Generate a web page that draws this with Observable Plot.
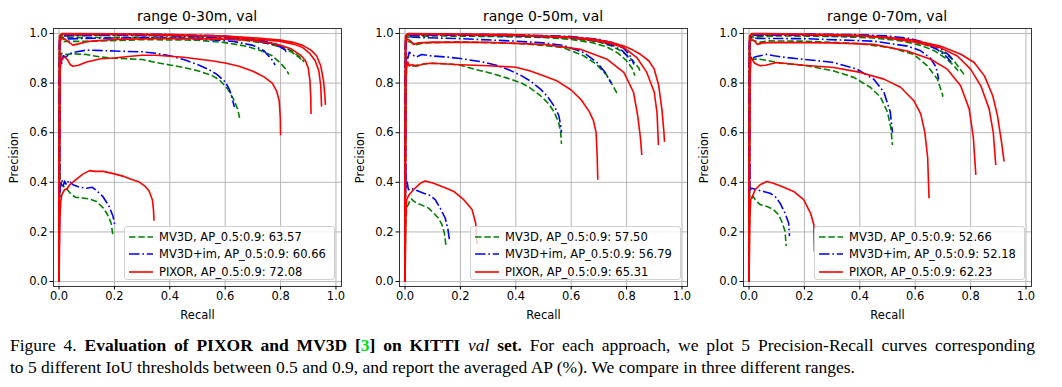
<!DOCTYPE html>
<html><head><meta charset="utf-8">
<script src="https://cdn.jsdelivr.net/npm/d3@7"></script>
<script src="https://cdn.jsdelivr.net/npm/@observablehq/plot@0.6"></script>
<style>
body{margin:0;background:#fff;}
#fig{position:relative;width:1062px;height:387px;font-family:"DejaVu Sans",sans-serif;color:#000;overflow:hidden;}
.panel{position:absolute;top:0;width:350px;height:320px;}
.title{position:absolute;top:7px;left:53px;width:288px;text-align:center;font-size:14px;line-height:18px;}
.legend{position:absolute;left:124px;top:226px;width:209px;height:52px;background:rgba(255,255,255,0.8);border:1px solid #d0d0d0;border-radius:3px;font-size:11.5px;}
.legend .row{position:absolute;left:0;height:18px;display:flex;align-items:center;white-space:nowrap;}
.legend svg{margin-left:4px;margin-right:6px;}
.capline{position:absolute;left:10px;width:1025px;font-family:"Liberation Serif","Times New Roman",serif;font-size:17.5px;line-height:22px;white-space:nowrap;}
#cap1{top:334px;text-align:justify;text-align-last:justify;}
#cap2{top:356px;text-align:left;}
</style></head>
<body><div id="fig"></div>
<script>
// ---------- data ----------
const xTicks = [0, 0.2, 0.4, 0.6, 0.8, 1.0];
const yTicks = [0, 0.2, 0.4, 0.6, 0.8, 1.0];
const iouThresholds = [0.5, 0.6, 0.7, 0.8, 0.9];
const rangeTitles = ["range 0-30m, val", "range 0-50m, val", "range 0-70m, val"];
const methods = ["MV3D", "MV3D+im", "PIXOR"];
const apMV3D = ["63.57", "57.50", "52.66"];
const apMV3Dim = ["60.66", "56.79", "52.18"];
const apPIXOR = ["72.08", "65.31", "62.23"];

// each curve: [recall, precision] pairs, one curve per IoU threshold
const mv3d_30 = [
 [[0,0],[0.002,0.95],[0.005,0.99],[0.02,0.992],[0.2,0.994],[0.4,0.993],[0.6,0.985],[0.7,0.975],[0.75,0.965],[0.8,0.95],[0.84,0.93],[0.87,0.905],[0.885,0.885]],
 [[0,0],[0.002,0.96],[0.005,0.985],[0.05,0.983],[0.3,0.985],[0.5,0.983],[0.65,0.975],[0.75,0.96],[0.8,0.945],[0.84,0.925],[0.865,0.905],[0.875,0.895]],
 [[0,0],[0.002,0.9],[0.005,0.96],[0.02,0.968],[0.1,0.968],[0.3,0.975],[0.5,0.973],[0.6,0.963],[0.68,0.948],[0.73,0.93],[0.77,0.91],[0.8,0.88],[0.82,0.855],[0.83,0.835]],
 [[0,0],[0.003,0.85],[0.008,0.92],[0.02,0.915],[0.05,0.918],[0.1,0.915],[0.15,0.905],[0.2,0.9],[0.25,0.898],[0.3,0.895],[0.35,0.883],[0.4,0.873],[0.45,0.863],[0.5,0.85],[0.55,0.832],[0.58,0.812],[0.61,0.775],[0.63,0.735],[0.645,0.695],[0.652,0.66]],
 [[0,0],[0.002,0.5],[0.004,0.4],[0.01,0.39],[0.02,0.38],[0.03,0.37],[0.045,0.35],[0.06,0.34],[0.09,0.336],[0.11,0.333],[0.135,0.323],[0.16,0.296],[0.175,0.27],[0.188,0.236],[0.194,0.19]]
];
const mv3dim_30 = [
 [[0,0],[0.002,0.98],[0.005,0.998],[0.2,0.998],[0.4,0.996],[0.6,0.99],[0.7,0.978],[0.75,0.967],[0.79,0.955],[0.81,0.94],[0.82,0.925]],
 [[0,0],[0.002,0.97],[0.005,0.99],[0.2,0.993],[0.4,0.99],[0.6,0.983],[0.7,0.972],[0.76,0.96],[0.8,0.945],[0.82,0.93],[0.83,0.935]],
 [[0,0],[0.002,0.95],[0.005,0.975],[0.02,0.978],[0.1,0.98],[0.3,0.983],[0.5,0.978],[0.63,0.968],[0.7,0.952],[0.74,0.93],[0.76,0.905],[0.772,0.89],[0.78,0.872]],
 [[0,0],[0.003,0.85],[0.006,0.9],[0.01,0.88],[0.015,0.91],[0.025,0.905],[0.04,0.92],[0.06,0.925],[0.1,0.933],[0.2,0.929],[0.3,0.926],[0.35,0.92],[0.4,0.91],[0.45,0.895],[0.5,0.875],[0.54,0.855],[0.57,0.835],[0.6,0.805],[0.615,0.775],[0.625,0.74],[0.633,0.703]],
 [[0,0],[0.002,0.3],[0.005,0.38],[0.01,0.41],[0.015,0.385],[0.02,0.405],[0.027,0.39],[0.035,0.408],[0.05,0.39],[0.075,0.38],[0.1,0.376],[0.12,0.38],[0.135,0.367],[0.158,0.343],[0.18,0.305],[0.195,0.263],[0.2,0.235],[0.203,0.22]]
];
const pixor_30 = [
 [[0,0],[0.002,0.99],[0.01,1.0],[0.2,0.999],[0.4,0.996],[0.6,0.99],[0.7,0.983],[0.8,0.973],[0.85,0.963],[0.88,0.952],[0.91,0.933],[0.93,0.91],[0.945,0.87],[0.955,0.81],[0.96,0.75],[0.962,0.712]],
 [[0,0],[0.002,0.99],[0.01,0.997],[0.2,0.996],[0.4,0.993],[0.6,0.987],[0.7,0.979],[0.8,0.968],[0.85,0.956],[0.88,0.943],[0.905,0.92],[0.925,0.89],[0.938,0.85],[0.945,0.79],[0.948,0.705]],
 [[0,0],[0.002,0.96],[0.008,0.98],[0.02,0.978],[0.035,0.965],[0.05,0.953],[0.07,0.958],[0.1,0.967],[0.2,0.976],[0.4,0.98],[0.6,0.977],[0.7,0.972],[0.76,0.962],[0.8,0.952],[0.84,0.937],[0.873,0.912],[0.89,0.89],[0.9,0.86],[0.906,0.81],[0.909,0.74],[0.91,0.675]],
 [[0,0],[0.003,0.82],[0.006,0.88],[0.012,0.9],[0.02,0.905],[0.03,0.895],[0.04,0.875],[0.05,0.868],[0.07,0.872],[0.1,0.885],[0.15,0.898],[0.2,0.901],[0.25,0.907],[0.3,0.912],[0.35,0.912],[0.4,0.908],[0.45,0.904],[0.5,0.897],[0.55,0.89],[0.6,0.881],[0.65,0.868],[0.7,0.848],[0.74,0.825],[0.77,0.8],[0.785,0.77],[0.795,0.73],[0.799,0.66],[0.8,0.59]],
 [[0,0],[0.003,0.25],[0.006,0.32],[0.01,0.35],[0.02,0.37],[0.03,0.375],[0.038,0.39],[0.06,0.41],[0.086,0.433],[0.11,0.447],[0.13,0.444],[0.16,0.444],[0.2,0.434],[0.23,0.425],[0.26,0.412],[0.29,0.401],[0.31,0.385],[0.325,0.365],[0.337,0.33],[0.341,0.29],[0.343,0.245]]
];

const mv3d_50 = [
 [[0,0],[0.002,0.96],[0.005,0.99],[0.1,0.995],[0.3,0.993],[0.5,0.988],[0.6,0.98],[0.69,0.968],[0.74,0.952],[0.78,0.93],[0.81,0.905],[0.83,0.88],[0.845,0.86],[0.85,0.84]],
 [[0,0],[0.002,0.95],[0.005,0.985],[0.1,0.99],[0.3,0.988],[0.5,0.984],[0.6,0.976],[0.68,0.962],[0.73,0.945],[0.77,0.92],[0.8,0.89],[0.82,0.86],[0.83,0.83]],
 [[0,0],[0.002,0.92],[0.005,0.97],[0.02,0.965],[0.04,0.955],[0.07,0.962],[0.2,0.966],[0.4,0.96],[0.5,0.952],[0.57,0.943],[0.645,0.91],[0.69,0.877],[0.73,0.83],[0.75,0.79],[0.765,0.76]],
 [[0,0],[0.003,0.8],[0.006,0.87],[0.012,0.875],[0.02,0.865],[0.04,0.872],[0.09,0.88],[0.15,0.878],[0.2,0.872],[0.25,0.856],[0.3,0.843],[0.37,0.82],[0.42,0.8],[0.45,0.782],[0.49,0.748],[0.52,0.715],[0.54,0.68],[0.555,0.64],[0.562,0.6],[0.565,0.555]],
 [[0,0],[0.002,0.22],[0.006,0.3],[0.012,0.31],[0.018,0.33],[0.024,0.333],[0.03,0.325],[0.042,0.316],[0.067,0.305],[0.085,0.296],[0.103,0.276],[0.12,0.256],[0.133,0.23],[0.142,0.196],[0.148,0.143]]
];
const mv3dim_50 = [
 [[0,0],[0.002,0.98],[0.005,0.998],[0.2,0.997],[0.4,0.995],[0.6,0.988],[0.7,0.976],[0.75,0.962],[0.79,0.94],[0.81,0.915],[0.822,0.89],[0.826,0.875]],
 [[0,0],[0.002,0.97],[0.005,0.993],[0.2,0.993],[0.4,0.99],[0.6,0.983],[0.7,0.968],[0.75,0.952],[0.785,0.93],[0.805,0.905],[0.815,0.885]],
 [[0,0],[0.002,0.95],[0.005,0.99],[0.03,0.985],[0.07,0.983],[0.2,0.979],[0.4,0.969],[0.5,0.962],[0.572,0.952],[0.645,0.923],[0.693,0.883],[0.723,0.843],[0.735,0.816],[0.745,0.8]],
 [[0,0],[0.002,0.85],[0.005,0.92],[0.01,0.9],[0.015,0.925],[0.025,0.915],[0.04,0.905],[0.06,0.915],[0.09,0.91],[0.15,0.905],[0.2,0.899],[0.28,0.885],[0.33,0.872],[0.37,0.856],[0.42,0.83],[0.45,0.81],[0.49,0.775],[0.515,0.745],[0.54,0.705],[0.555,0.67],[0.562,0.63],[0.565,0.6]],
 [[0,0],[0.002,0.47],[0.004,0.38],[0.008,0.4],[0.012,0.37],[0.02,0.376],[0.04,0.368],[0.067,0.356],[0.09,0.347],[0.109,0.33],[0.127,0.296],[0.145,0.256],[0.155,0.21],[0.16,0.17]]
];
const pixor_50 = [
 [[0,0],[0.002,0.99],[0.01,1.0],[0.2,0.998],[0.4,0.995],[0.6,0.986],[0.69,0.976],[0.75,0.963],[0.79,0.949],[0.82,0.935],[0.85,0.916],[0.88,0.89],[0.9,0.856],[0.916,0.79],[0.928,0.69],[0.935,0.6],[0.937,0.563]],
 [[0,0],[0.002,0.99],[0.01,0.997],[0.2,0.995],[0.4,0.992],[0.6,0.983],[0.69,0.971],[0.75,0.957],[0.79,0.943],[0.837,0.903],[0.873,0.843],[0.9,0.763],[0.91,0.68],[0.915,0.55]],
 [[0,0],[0.002,0.96],[0.008,0.978],[0.02,0.97],[0.03,0.956],[0.05,0.962],[0.1,0.965],[0.3,0.964],[0.45,0.958],[0.51,0.955],[0.633,0.936],[0.73,0.896],[0.79,0.843],[0.825,0.763],[0.84,0.67],[0.85,0.58],[0.855,0.51]],
 [[0,0],[0.003,0.8],[0.006,0.87],[0.01,0.885],[0.015,0.87],[0.025,0.875],[0.04,0.868],[0.07,0.878],[0.1,0.88],[0.2,0.874],[0.3,0.87],[0.4,0.864],[0.45,0.85],[0.5,0.83],[0.55,0.808],[0.6,0.772],[0.638,0.73],[0.665,0.685],[0.68,0.65],[0.69,0.6],[0.694,0.5],[0.696,0.41]],
 [[0,0],[0.003,0.26],[0.006,0.33],[0.015,0.35],[0.03,0.37],[0.055,0.396],[0.073,0.405],[0.103,0.396],[0.14,0.38],[0.176,0.363],[0.212,0.33],[0.242,0.29],[0.255,0.236],[0.26,0.15]]
];

const mv3d_70 = [
 [[0,0],[0.002,0.96],[0.005,0.99],[0.1,0.995],[0.3,0.993],[0.45,0.987],[0.55,0.975],[0.62,0.96],[0.67,0.942],[0.71,0.918],[0.74,0.89],[0.76,0.86],[0.776,0.835]],
 [[0,0],[0.002,0.95],[0.005,0.985],[0.1,0.99],[0.3,0.988],[0.45,0.982],[0.55,0.97],[0.62,0.952],[0.67,0.93],[0.71,0.9],[0.74,0.87],[0.755,0.85]],
 [[0,0],[0.002,0.92],[0.005,0.975],[0.02,0.97],[0.04,0.965],[0.07,0.97],[0.197,0.969],[0.39,0.96],[0.51,0.943],[0.595,0.916],[0.644,0.869],[0.68,0.816],[0.698,0.756],[0.7,0.745]],
 [[0,0],[0.003,0.8],[0.006,0.9],[0.015,0.895],[0.03,0.898],[0.04,0.896],[0.08,0.888],[0.115,0.88],[0.197,0.872],[0.306,0.849],[0.378,0.823],[0.438,0.783],[0.475,0.743],[0.5,0.683],[0.512,0.62],[0.518,0.55]],
 [[0,0],[0.002,0.25],[0.005,0.33],[0.01,0.336],[0.015,0.343],[0.022,0.33],[0.04,0.31],[0.064,0.303],[0.088,0.29],[0.106,0.27],[0.118,0.243],[0.13,0.203],[0.134,0.143]]
];
const mv3dim_70 = [
 [[0,0],[0.002,0.98],[0.005,0.998],[0.2,0.998],[0.4,0.995],[0.5,0.99],[0.58,0.98],[0.64,0.962],[0.69,0.94],[0.72,0.915],[0.74,0.89]],
 [[0,0],[0.002,0.97],[0.005,0.993],[0.2,0.993],[0.4,0.99],[0.5,0.985],[0.58,0.973],[0.64,0.955],[0.68,0.935],[0.71,0.91],[0.73,0.885]],
 [[0,0],[0.002,0.95],[0.005,0.985],[0.03,0.98],[0.2,0.979],[0.45,0.969],[0.572,0.949],[0.62,0.93],[0.655,0.9],[0.675,0.865],[0.685,0.815]],
 [[0,0],[0.002,0.85],[0.005,0.91],[0.01,0.895],[0.02,0.905],[0.04,0.91],[0.064,0.916],[0.09,0.91],[0.12,0.905],[0.197,0.896],[0.306,0.883],[0.39,0.856],[0.45,0.816],[0.487,0.763],[0.51,0.683],[0.518,0.6]],
 [[0,0],[0.002,0.48],[0.004,0.37],[0.01,0.376],[0.028,0.37],[0.052,0.363],[0.076,0.356],[0.094,0.343],[0.112,0.316],[0.13,0.276],[0.143,0.236],[0.146,0.183]]
];
const pixor_70 = [
 [[0,0],[0.002,0.99],[0.01,1.0],[0.2,0.998],[0.4,0.993],[0.5,0.985],[0.595,0.973],[0.69,0.949],[0.765,0.916],[0.813,0.883],[0.85,0.829],[0.88,0.749],[0.897,0.67],[0.912,0.56],[0.921,0.483]],
 [[0,0],[0.002,0.99],[0.01,0.997],[0.2,0.995],[0.4,0.99],[0.5,0.982],[0.6,0.965],[0.69,0.943],[0.752,0.909],[0.8,0.856],[0.837,0.789],[0.867,0.696],[0.882,0.6],[0.891,0.47]],
 [[0,0],[0.002,0.96],[0.008,0.978],[0.02,0.97],[0.03,0.956],[0.05,0.962],[0.1,0.964],[0.3,0.962],[0.45,0.956],[0.571,0.929],[0.656,0.896],[0.716,0.856],[0.764,0.789],[0.795,0.696],[0.81,0.58],[0.819,0.43]],
 [[0,0],[0.003,0.8],[0.006,0.9],[0.012,0.895],[0.02,0.88],[0.04,0.87],[0.06,0.872],[0.1,0.883],[0.197,0.872],[0.306,0.863],[0.402,0.843],[0.487,0.816],[0.547,0.783],[0.595,0.729],[0.62,0.676],[0.635,0.6],[0.645,0.5],[0.65,0.336]],
 [[0,0],[0.003,0.26],[0.006,0.33],[0.015,0.35],[0.022,0.37],[0.04,0.39],[0.064,0.403],[0.088,0.396],[0.125,0.38],[0.161,0.363],[0.197,0.33],[0.222,0.276],[0.234,0.229],[0.236,0.12]]
];

// ---------- styles ----------
const styleFor = {
  "MV3D":    {stroke: "green", dash: "6.5,2.8"},
  "MV3D+im": {stroke: "blue",  dash: "10.5,2.8,1.7,2.8"},
  "PIXOR":   {stroke: "red",   dash: null}
};

const panels = [
  {title: rangeTitles[0], left: 0,   data: [mv3d_30, mv3dim_30, pixor_30], ap: [apMV3D[0], apMV3Dim[0], apPIXOR[0]]},
  {title: rangeTitles[1], left: 346, data: [mv3d_50, mv3dim_50, pixor_50], ap: [apMV3D[1], apMV3Dim[1], apPIXOR[1]]},
  {title: rangeTitles[2], left: 690, data: [mv3d_70, mv3dim_70, pixor_70], ap: [apMV3D[2], apMV3Dim[2], apPIXOR[2]]}
];

const fig = document.getElementById("fig");

function buildRows(curveSets) {
  const rows = [];
  curveSets.forEach((curves, m) => {
    curves.forEach((curve, i) => {
      curve.forEach(([r, p]) => rows.push({method: methods[m], iou: iouThresholds[i], recall: r, precision: p}));
    });
  });
  return rows;
}

panels.forEach(pan => {
  const rows = buildRows(pan.data);
  const lineMarks = methods.map(m => Plot.line(rows.filter(d => d.method === m), {
    x: "recall", y: "precision", z: "iou",
    stroke: styleFor[m].stroke, strokeWidth: 1.6,
    strokeDasharray: styleFor[m].dash || undefined,
    strokeLinejoin: "round", strokeLinecap: "butt", curve: "linear"
  }));
  const chart = Plot.plot({
    width: 350, height: 320,
    marginLeft: 53, marginRight: 9, marginTop: 28, marginBottom: 34,
    style: {fontFamily: "'DejaVu Sans', sans-serif", fontSize: "11.5px", color: "#000", background: "transparent", overflow: "visible"},
    x: {domain: [-0.02, 1.02]},
    y: {domain: [-0.02, 1.02]},
    marks: [
      Plot.gridX(xTicks, {stroke: "#b0b0b0", strokeOpacity: 1, strokeWidth: 0.9}),
      Plot.gridY(yTicks, {stroke: "#b0b0b0", strokeOpacity: 1, strokeWidth: 0.9}),
      ...lineMarks,
      Plot.frame({stroke: "#222", strokeWidth: 0.9}),
      Plot.axisX(xTicks, {tickSize: 3.5, tickPadding: 2, tickFormat: d3.format(".1f"), label: "Recall", labelAnchor: "center", labelArrow: "none", labelOffset: 32, fontSize: 11.5}),
      Plot.axisY(yTicks, {tickSize: 3.5, tickPadding: 2.5, tickFormat: d3.format(".1f"), label: "Precision", labelAnchor: "center", labelArrow: "none", labelOffset: 44, fontSize: 11.5})
    ]
  });
  const div = document.createElement("div");
  div.className = "panel";
  div.style.left = pan.left + "px";
  div.appendChild(chart);
  const t = document.createElement("div");
  t.className = "title";
  t.textContent = pan.title;
  div.appendChild(t);
  // legend
  const lg = document.createElement("div");
  lg.className = "legend";
  methods.forEach((m, i) => {
    const row = document.createElement("div");
    row.className = "row";
    row.style.top = (0.5 + i * 17.5) + "px";
    const ns = "http://www.w3.org/2000/svg";
    const s = document.createElementNS(ns, "svg");
    s.setAttribute("width", 24); s.setAttribute("height", 10);
    const ln = document.createElementNS(ns, "line");
    ln.setAttribute("x1", 0); ln.setAttribute("x2", 24); ln.setAttribute("y1", 5); ln.setAttribute("y2", 5);
    ln.setAttribute("stroke", styleFor[m].stroke); ln.setAttribute("stroke-width", 1.6);
    if (styleFor[m].dash) ln.setAttribute("stroke-dasharray", styleFor[m].dash);
    s.appendChild(ln);
    row.appendChild(s);
    const sp = document.createElement("span");
    sp.textContent = `${m}, AP_0.5:0.9: ${pan.ap[i]}`;
    row.appendChild(sp);
    lg.appendChild(row);
  });
  div.appendChild(lg);
  fig.appendChild(div);
});

const cap1 = document.createElement("div");
cap1.className = "capline"; cap1.id = "cap1";
cap1.innerHTML = 'Figure 4. <b>Evaluation of PIXOR and MV3D [<span style="color:#00e000">3</span>] on KITTI</b> <i>val</i> <b>set.</b> For each approach, we plot 5 Precision-Recall curves corresponding';
fig.appendChild(cap1);
const cap2 = document.createElement("div");
cap2.className = "capline"; cap2.id = "cap2";
cap2.textContent = 'to 5 different IoU thresholds between 0.5 and 0.9, and report the averaged AP (%). We compare in three different ranges.';
fig.appendChild(cap2);
</script>
</body></html>
